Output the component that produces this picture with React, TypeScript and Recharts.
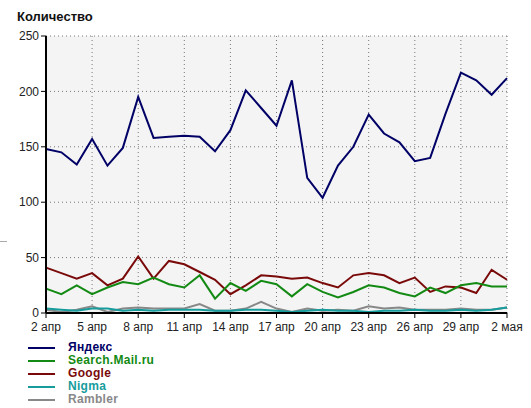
import { LineChart, Line, XAxis, YAxis, CartesianGrid } from 'recharts'

const days = [
  '2 апр', '3 апр', '4 апр', '5 апр', '6 апр', '7 апр', '8 апр', '9 апр', '10 апр', '11 апр',
  '12 апр', '13 апр', '14 апр', '15 апр', '16 апр', '17 апр', '18 апр', '19 апр', '20 апр', '21 апр',
  '22 апр', '23 апр', '24 апр', '25 апр', '26 апр', '27 апр', '28 апр', '29 апр', '30 апр', '1 мая', '2 мая',
]

const yandex = [
  148, 145, 134, 157, 133, 149, 195, 158, 159, 160, 159, 146, 165, 201, 185, 169,
  210, 122, 104, 133, 150, 179, 162, 154, 137, 140, 180, 217, 210, 197, 212,
]
const searchMail = [
  22, 17, 25, 17, 23, 28, 26, 32, 26, 23, 34, 13, 27, 20, 29, 26,
  15, 26, 19, 14, 19, 25, 23, 18, 15, 23, 18, 25, 27, 24, 24,
]
const google = [
  41, 36, 31, 36, 25, 31, 51, 31, 47, 44, 37, 30, 17, 25, 34, 33,
  31, 32, 27, 23, 34, 36, 34, 27, 32, 19, 24, 23, 18, 39, 30,
]
const nigma = [
  4, 3, 2, 4, 4, 2, 3, 2, 3, 3, 3, 2, 2, 3, 3, 2,
  1, 2, 3, 2, 2, 1, 2, 2, 3, 2, 2, 3, 2, 3, 5,
]
const rambler = [
  3, 1, 3, 6, 1, 4, 5, 4, 4, 4, 8, 2, 2, 4, 10, 4,
  1, 4, 2, 3, 2, 6, 4, 5, 3, 3, 3, 4, 3, 3, 5,
]

const yTicks = [0, 50, 100, 150, 200, 250]

const series = [
  { key: 'yandex', name: 'Яндекс', color: '#000066' },
  { key: 'searchMail', name: 'Search.Mail.ru', color: '#138a13' },
  { key: 'google', name: 'Google', color: '#7a0a0a' },
  { key: 'nigma', name: 'Nigma', color: '#169c9c' },
  { key: 'rambler', name: 'Rambler', color: '#888888' },
]

const data = days.map((day, i) => ({
  day,
  yandex: yandex[i],
  searchMail: searchMail[i],
  google: google[i],
  nigma: nigma[i],
  rambler: rambler[i],
}))

const font = 'Arial, "Liberation Sans", sans-serif'
const tickStyle = { fontSize: 12, fill: '#222', fontFamily: font }

export default function App() {
  // draw order: small series first so Yandex stays on top
  const drawOrder = [...series].reverse()
  return (
    <div style={{ position: 'fixed', left: 0, top: 0, width: 531, height: 408, background: '#fff', fontFamily: font }}>
      <div style={{ position: 'absolute', left: 17, top: 9, fontSize: 13, fontWeight: 'bold', color: '#111' }}>
        Количество
      </div>
      <div style={{ position: 'absolute', left: 0, top: 241, width: 7, height: 1, background: '#aaa' }} />
      <div style={{ position: 'absolute', left: 0, top: 0 }}>
        <LineChart width={531} height={337} data={data} margin={{ top: 36, right: 24, left: 6, bottom: 2 }}>
          <CartesianGrid stroke="#777" strokeDasharray="1 3" fill="#f4f4f4" />
          <XAxis
            dataKey="day"
            interval={2}
            tick={tickStyle}
            tickLine={{ stroke: '#000' }}
            tickSize={5}
            tickMargin={4}
            axisLine={{ stroke: '#000', strokeWidth: 2 }}
            height={22}
          />
          <YAxis
            domain={[0, 250]}
            ticks={yTicks}
            tick={tickStyle}
            tickLine={{ stroke: '#000' }}
            tickSize={5}
            axisLine={{ stroke: '#000', strokeWidth: 2 }}
            width={40}
          />
          {drawOrder.map((s) => (
            <Line
              key={s.key}
              dataKey={s.key}
              name={s.name}
              stroke={s.color}
              strokeWidth={2}
              dot={false}
              isAnimationActive={false}
            />
          ))}
        </LineChart>
      </div>
      <div style={{ position: 'absolute', left: 28, top: 341 }}>
        {series.map((s) => (
          <div key={s.key} style={{ display: 'flex', alignItems: 'center', height: 13 }}>
            <div style={{ width: 27, height: 2, background: s.color, marginRight: 13 }} />
            <span style={{ fontSize: 12, fontWeight: 'bold', color: s.color, lineHeight: '13px', letterSpacing: 0.3 }}>
              {s.name}
            </span>
          </div>
        ))}
      </div>
    </div>
  )
}
